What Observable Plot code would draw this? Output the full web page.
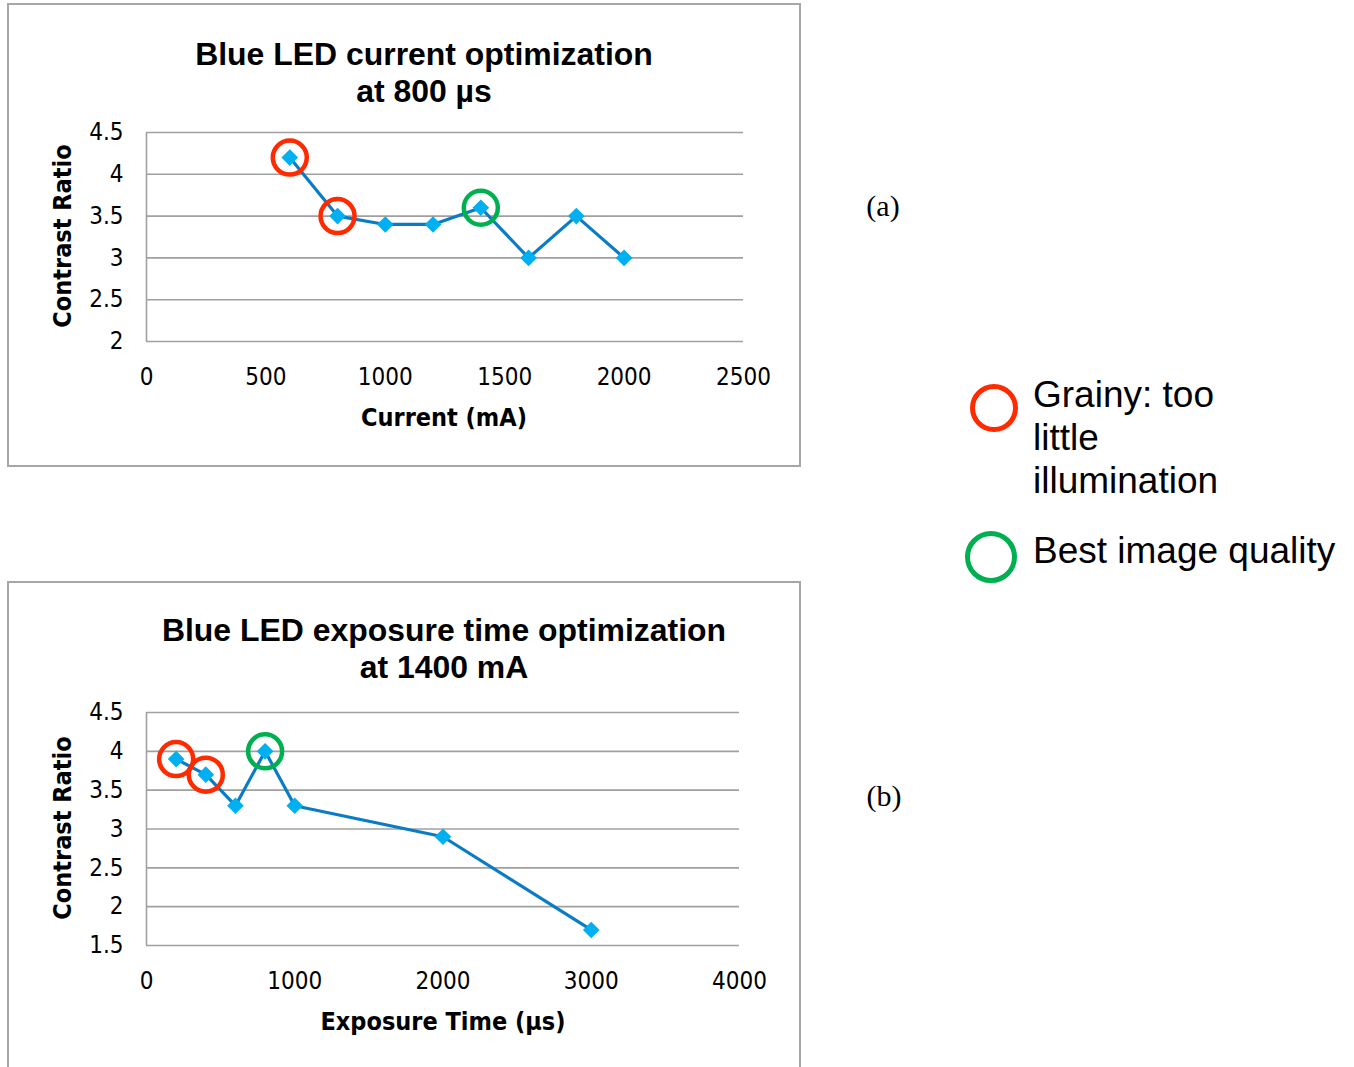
<!DOCTYPE html>
<html><head><meta charset="utf-8">
<script src="https://cdn.jsdelivr.net/npm/d3@7"></script>
<script src="https://cdn.jsdelivr.net/npm/@observablehq/plot@0.6"></script>
<style>
body{margin:0;background:#fff;}
#page{position:relative;width:1354px;height:1067px;overflow:hidden;background:#fff;}
.box{position:absolute;border:2px solid #a6a6a6;box-sizing:border-box;}
.nar{font-family:"Liberation Sans Narrow","DejaVu Sans Condensed",sans-serif;color:#000;}
.title{position:absolute;font-family:"Liberation Sans",Arial,sans-serif;font-weight:bold;font-size:31px;line-height:37px;text-align:center;white-space:nowrap;transform:translateX(-50%) scaleX(1.03);color:#000;}
.xlab{position:absolute;font-weight:bold;font-size:25px;white-space:nowrap;transform:translate(-50%,-50%);}
.ylab{position:absolute;font-weight:bold;font-size:25px;white-space:nowrap;transform:translate(-50%,-50%) rotate(-90deg);}
.panel{position:absolute;font-family:"Liberation Serif","DejaVu Serif",serif;font-size:30px;transform:translate(-50%,-50%);}
.leg{position:absolute;font-family:"Liberation Sans",Arial,sans-serif;font-size:37px;line-height:43px;color:#000;}
.ring{position:absolute;border-radius:50%;box-sizing:border-box;}
.chart{position:absolute;left:0;}
</style></head>
<body><div id="page">
<div class="box" style="left:7px;top:3px;width:794px;height:464px;"></div>
<div class="box" style="left:7px;top:581px;width:794px;height:500px;"></div>
<div id="chartA" class="chart" style="top:0px;"></div>
<div id="chartB" class="chart" style="top:581px;"></div>
<div class="title" style="left:424px;top:36px;">Blue LED current optimization<br>at 800 µs</div>
<div class="title" style="left:444px;top:612px;">Blue LED exposure time optimization<br>at 1400 mA</div>
<div class="xlab nar" style="left:444px;top:417px;">Current (mA)</div>
<div class="xlab nar" style="left:443px;top:1021px;">Exposure Time (µs)</div>
<div class="ylab nar" style="left:62px;top:236px;">Contrast Ratio</div>
<div class="ylab nar" style="left:62px;top:828px;">Contrast Ratio</div>
<div class="panel" style="left:883px;top:206px;">(a)</div>
<div class="panel" style="left:884px;top:796px;">(b)</div>
<div class="ring" style="left:970px;top:384px;width:48px;height:48px;border:5px solid #ff2a00;"></div>
<div class="leg" style="left:1033px;top:373px;">Grainy: too<br>little<br>illumination</div>
<div class="ring" style="left:965px;top:531px;width:52px;height:52px;border:5px solid #00b050;"></div>
<div class="leg" style="left:1033px;top:529px;">Best image quality</div>
</div>
<script>
// Chart (a): Blue LED current optimization at 800 µs
const currentMA = [600, 800, 1000, 1200, 1400, 1600, 1800, 2000];
const contrastA = [4.2, 3.5, 3.4, 3.4, 3.6, 3.0, 3.5, 3.0];
const grainyA = [600, 800];
const bestA = [1400];
const xTicksA = [0, 500, 1000, 1500, 2000, 2500];
const yTicksA = [2, 2.5, 3, 3.5, 4, 4.5];

// Chart (b): Blue LED exposure time optimization at 1400 mA
const exposureUs = [200, 400, 600, 800, 1000, 2000, 3000];
const contrastB = [3.9, 3.7, 3.3, 4.0, 3.3, 2.9, 1.7];
const grainyB = [200, 400];
const bestB = [800];
const xTicksB = [0, 1000, 2000, 3000, 4000];
const yTicksB = [1.5, 2, 2.5, 3, 3.5, 4, 4.5];

const tickFont = "Liberation Sans Narrow, DejaVu Sans Condensed, sans-serif";

function makeChart(xs, ys, red, green, xTicks, yTicks, m) {
  const data = xs.map((x, i) => ({x, y: ys[i]}));
  const pick = (arr) => data.filter(d => arr.includes(d.x));
  const yDom = [yTicks[0], yTicks[yTicks.length - 1]];
  return Plot.plot({
    width: 800, height: m.height,
    marginLeft: 146, marginRight: m.right, marginTop: m.top, marginBottom: m.bottom,
    style: {background: "transparent", overflow: "visible"},
    x: {domain: [xTicks[0], xTicks[xTicks.length - 1]]},
    y: {domain: yDom},
    marks: [
      Plot.gridY(yTicks, {stroke: "#a0a0a0", strokeOpacity: 1, strokeWidth: 1.6}),
      Plot.ruleX([0], {y1: yDom[0], y2: yDom[1], stroke: "#a0a0a0", strokeWidth: 1.6}),
      Plot.axisX(xTicks, {tickSize: 0, tickPadding: 26, fontSize: 24, fontFamily: tickFont, fill: "#000", label: null, tickFormat: d => String(d)}),
      Plot.axisY(yTicks, {tickSize: 0, tickPadding: 23, fontSize: 24, fontFamily: tickFont, fill: "#000", label: null, tickFormat: d => String(d)}),
      Plot.line(data, {x: "x", y: "y", stroke: "#0a7cc6", strokeWidth: 3.2}),
      Plot.dot(data, {x: "x", y: "y", symbol: "diamond2", r: 7.5, fill: "#00b0f0", stroke: "none"}),
      Plot.dot(pick(red), {x: "x", y: "y", r: 17, stroke: "#ff2a00", strokeWidth: 4.5, fill: "none"}),
      Plot.dot(pick(green), {x: "x", y: "y", r: 17, stroke: "#00b050", strokeWidth: 4.5, fill: "none"})
    ]
  });
}

document.getElementById("chartA").append(
  makeChart(currentMA, contrastA, grainyA, bestA, xTicksA, yTicksA, {height: 466, top: 132, bottom: 125, right: 57})
);
document.getElementById("chartB").append(
  makeChart(exposureUs, contrastB, grainyB, bestB, xTicksB, yTicksB, {height: 486, top: 131, bottom: 122, right: 61})
);
</script>
</body></html>
